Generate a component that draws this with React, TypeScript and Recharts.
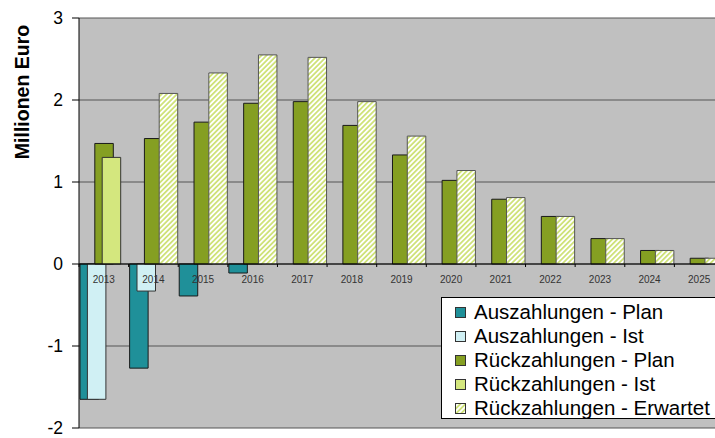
import {
  BarChart,
  Bar,
  XAxis,
  YAxis,
  CartesianGrid,
  ReferenceLine,
  Legend,
} from "recharts";

const years = ["2013", "2014", "2015", "2016", "2017", "2018", "2019", "2020", "2021", "2022", "2023", "2024", "2025"];
const auszahlungenPlan = [-1.65, -1.27, -0.39, -0.11, null, null, null, null, null, null, null, null, null];
const auszahlungenIst = [-1.65, -0.33, null, null, null, null, null, null, null, null, null, null, null];
const rueckzahlungenPlan = [1.47, 1.53, 1.73, 1.96, 1.98, 1.69, 1.33, 1.02, 0.79, 0.58, 0.31, 0.165, 0.07];
const rueckzahlungenIst = [1.3, null, null, null, null, null, null, null, null, null, null, null, null];
const rueckzahlungenErwartet = [null, 2.08, 2.33, 2.55, 2.52, 1.98, 1.56, 1.14, 0.81, 0.58, 0.31, 0.165, 0.07];
const seriesNames = [
  "Auszahlungen - Plan",
  "Auszahlungen - Ist",
  "Rückzahlungen - Plan",
  "Rückzahlungen - Ist",
  "Rückzahlungen - Erwartet",
];
const yTicks = [-2, -1, 0, 1, 2, 3];

const data = years.map((year, i) => ({
  year,
  auszPlan: auszahlungenPlan[i],
  auszIst: auszahlungenIst[i],
  rueckPlan: rueckzahlungenPlan[i],
  rueckIst: rueckzahlungenIst[i],
  rueckErw: rueckzahlungenErwartet[i],
}));

const FONT = "'Liberation Sans', Arial, sans-serif";
const WIDTH = 740;
const HEIGHT = 438;
const X_AXIS_H = 1;
const MARGIN = { top: 18, right: 16, bottom: 9, left: 0 };
const Y_AXIS_W = 79;
const Y_MIN = -2;
const Y_MAX = 3;
const PLOT_H = HEIGHT - MARGIN.top - MARGIN.bottom - X_AXIS_H;
const PLOT_W = WIDTH - MARGIN.left - MARGIN.right - Y_AXIS_W;
const BAND = PLOT_W / years.length;
const ZERO_Y = MARGIN.top + (PLOT_H * Y_MAX) / (Y_MAX - Y_MIN);

// year labels sit just under the zero line, like Excel's axis crossing
const CategoryTick = (props: any) => {
  const { x, payload } = props;
  return (
    <g>
      <line x1={x - BAND / 2} x2={x - BAND / 2} y1={ZERO_Y} y2={ZERO_Y + 3} stroke="#000" />
      <text x={x} y={ZERO_Y + 18.5} textAnchor="middle" fontSize={10} fill="#333" fontFamily={FONT}>
        {payload.value}
      </text>
    </g>
  );
};

const LegendBox = (props: any) => {
  const payload = [...(props.payload || [])].sort(
    (a: any, b: any) => seriesNames.indexOf(a.value) - seriesNames.indexOf(b.value)
  );
  return (
    <div
      style={{
        boxSizing: "border-box",
        width: 290,
        height: 122,
        background: "#fff",
        border: "1px solid #000",
        paddingTop: 2,
        fontFamily: FONT,
        fontSize: 20.5,
        color: "#000",
      }}
    >
      {payload.map((entry: any) => (
        <div key={entry.value} style={{ height: 24, display: "flex", alignItems: "center" }}>
          <svg width={11} height={11} style={{ marginLeft: 13, marginRight: 8, flexShrink: 0 }}>
            <rect x={0.5} y={0.5} width={10} height={10} fill={entry.color} stroke="#333" />
          </svg>
          <span style={{ lineHeight: "24px", whiteSpace: "nowrap" }}>{entry.value}</span>
        </div>
      ))}
    </div>
  );
};

const YLabel = (props: any) => {
  const { viewBox } = props;
  const cx = viewBox.x + 22;
  const cy = viewBox.y + 74;
  return (
    <text
      x={cx}
      y={cy}
      transform={`rotate(-90, ${cx}, ${cy})`}
      textAnchor="middle"
      dominantBaseline="central"
      fontSize={19.5}
      fontWeight="bold"
      fontFamily={FONT}
      fill="#000"
    >
      Millionen Euro
    </text>
  );
};

const App = () => {
  return (
    <div style={{ position: "absolute", left: 0, top: 0, width: 715, height: 438, overflow: "hidden", background: "#fff" }}>
      <BarChart width={WIDTH} height={HEIGHT} data={data} margin={MARGIN} barSize={18.5} barGap={-11.1} barCategoryGap={0}>
        <defs>
          <pattern id="hatch" width={3.6} height={3.6} patternUnits="userSpaceOnUse" patternTransform="rotate(45)">
            <rect width={3.6} height={3.6} fill="#fff" />
            <line x1={0.9} y1={0} x2={0.9} y2={3.6} stroke="#CFE27A" strokeWidth={1.8} />
          </pattern>
        </defs>
        <CartesianGrid vertical={false} stroke="#555" fill="#C0C0C0" strokeOpacity={1} />
        <XAxis
          dataKey="year"
          height={X_AXIS_H}
          axisLine={false}
          tickLine={false}
          interval={0}
          tick={<CategoryTick />}
        />
        <YAxis
          width={Y_AXIS_W}
          domain={[Y_MIN, Y_MAX]}
          ticks={yTicks}
          interval={0}
          axisLine={{ stroke: "#000" }}
          tickLine={{ stroke: "#000" }}
          tickSize={7}
          tickMargin={9}
          tick={{ fontSize: 17.5, fill: "#000", fontFamily: FONT }}
          label={<YLabel />}
        />
        <Bar dataKey="auszPlan" name={seriesNames[0]} fill="#1F9099" stroke="#1a1a1a" isAnimationActive={false} />
        <Bar dataKey="auszIst" name={seriesNames[1]} fill="#D0F0F4" stroke="#333" isAnimationActive={false} />
        <Bar dataKey="rueckPlan" name={seriesNames[2]} fill="#859F22" stroke="#1a1a1a" isAnimationActive={false} />
        <Bar dataKey="rueckIst" name={seriesNames[3]} fill="#D4E77E" stroke="#333" isAnimationActive={false} />
        <Bar dataKey="rueckErw" name={seriesNames[4]} fill="url(#hatch)" stroke="#555" isAnimationActive={false} />
        <ReferenceLine y={0} stroke="#000" />
        <Legend
          layout="vertical"
          align="center"
          verticalAlign="middle"
          content={<LegendBox />}
          wrapperStyle={{ left: 441, top: 297, width: 290, height: 122 }}
        />
      </BarChart>
    </div>
  );
};

export default App;
